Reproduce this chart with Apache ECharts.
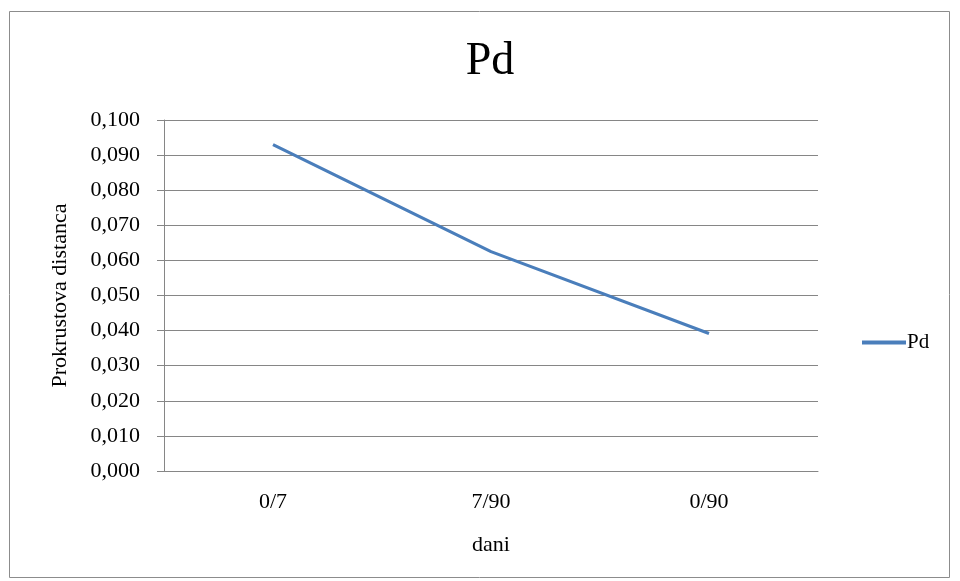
<!DOCTYPE html>
<html><head><meta charset="utf-8">
<script src="https://cdn.jsdelivr.net/npm/echarts@6/dist/echarts.min.js"></script>
<style>html,body{margin:0;padding:0;background:#fff}#c{width:960px;height:581px}</style>
</head><body><div id="c"></div>
<script>
const categories = ['0/7', '7/90', '0/90'];
const pdValues = [0.093, 0.0625, 0.0392];
const seriesName = 'Pd';
const chartTitle = 'Pd';
const xTitle = 'dani';
const yTitle = 'Prokrustova distanca';

const serif = '"Liberation Serif", "DejaVu Serif", serif';
const chart = echarts.init(document.getElementById('c'));
chart.setOption({
  animation: false,
  backgroundColor: '#fff',
  graphic: [{type: 'rect', shape: {x: 9.5, y: 11.5, width: 940, height: 566}, style: {fill: 'none', stroke: '#8c8c8c', lineWidth: 1}}],
  title: {text: chartTitle, left: 485, textAlign: 'center', top: 34, textStyle: {fontFamily: serif, fontSize: 46, fontWeight: 'normal', color: '#000'}},
  legend: {data: [seriesName], orient: 'vertical', left: 857, top: 327, itemWidth: 44, itemHeight: 4, itemGap: 2, icon: 'rect',
    textStyle: {fontFamily: serif, fontSize: 21, color: '#000', padding: [0,0,0,-4]}},
  grid: {left: 164, right: 142, top: 120, bottom: 110},
  xAxis: {type: 'category', data: categories, boundaryGap: true, name: xTitle, nameLocation: 'middle', nameGap: 63,
    nameTextStyle: {fontFamily: serif, fontSize: 22, color: '#000'},
    axisLine: {lineStyle: {color: '#868686', width: 1}}, axisTick: {show: false},
    axisLabel: {fontFamily: serif, fontSize: 22, color: '#000', margin: 20}},
  yAxis: {type: 'value', min: 0, max: 0.1, interval: 0.01, name: yTitle, nameLocation: 'middle', nameGap: 93,
    nameTextStyle: {fontFamily: serif, fontSize: 22, color: '#000'},
    axisLine: {show: true, lineStyle: {color: '#868686'}},
    axisTick: {show: true, inside: false, length: 7, lineStyle: {color: '#868686'}},
    splitLine: {lineStyle: {color: '#868686', width: 1}},
    axisLabel: {fontFamily: serif, fontSize: 22, color: '#000', margin: 24, formatter: v => v.toFixed(3).replace('.', ',')}},
  series: [{name: seriesName, type: 'line', data: pdValues, symbol: 'none', lineStyle: {color: '#4a7ebb', width: 3.2}, itemStyle: {color: '#4a7ebb'}}]
});
</script></body></html>
